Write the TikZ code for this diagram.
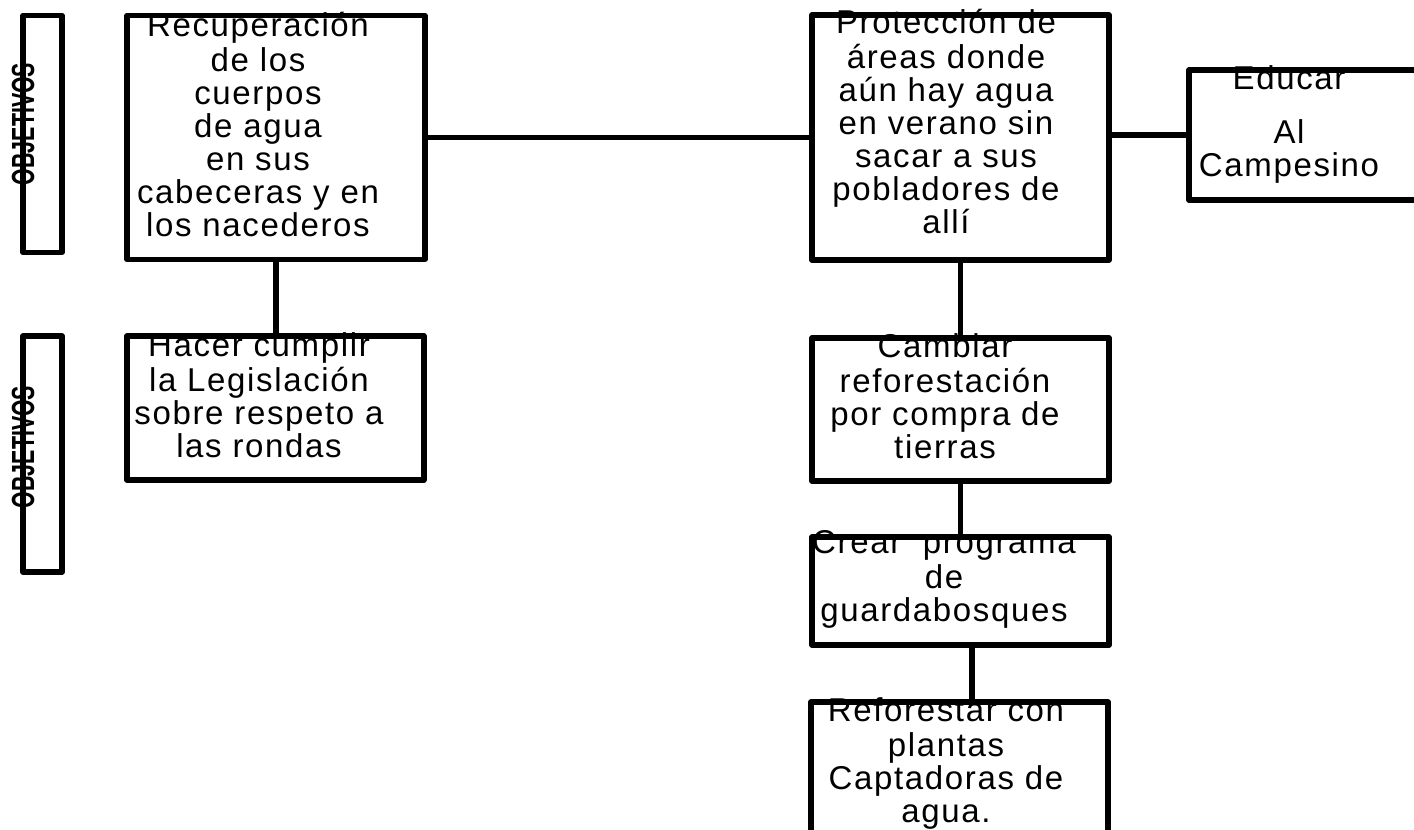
\documentclass[tikz,border=0pt]{standalone}
\usepackage{fontspec}
\setmainfont{Liberation Sans}
\newfontfamily\boxfont{Liberation Sans}[LetterSpace=5]
\usetikzlibrary{positioning}
\tikzset{caja/.style={rectangle,draw=black,line width=5.5pt,line join=round,inner sep=0pt}}
\tikzset{texto/.style={anchor=north,inner sep=0pt,align=center,font=\boxfont\fontsize{33}{33}\selectfont}}
\tikzset{rotulo/.style={rotate=90,inner sep=0pt,font=\bfseries\fontsize{32}{34}\selectfont}}
\tikzset{linea/.style={line width=5.5pt}}

\begin{document}
\begin{tikzpicture}[x=1pt,y=-1pt]
% \draw[help lines] (0,0) grid (1414,830);
\useasboundingbox (0,0) rectangle (1414,830);
\clip (0,0) rectangle (1414,830);
%
\node (rect) [texto] at (258,11.9) {\strut Recuperación\\de los\\cuerpos\\de agua\\en sus\\cabeceras y en\\los nacederos};
\node (hact) [texto] at (259,331.9) {\strut Hacer cumplir\\la Legislación\\sobre respeto a\\las rondas};
\node (prot) [texto] at (946,8.9) {\strut Protección de\\áreas donde\\aún hay agua\\en verano sin\\sacar a sus\\pobladores de\\allí};
\node (edut) [texto] at (1289,64.9) {\strut Educar\\[20pt]Al\\Campesino};
\node (camt) [texto] at (945,332.9) {\strut Cambiar\\reforestación\\por compra de\\tierras};
\node (cret) [texto] at (944,529.9) {\strut Crear\ \ programa\\de\\guardabosques};
\node (reft) [texto] at (946,697.9) {\strut Reforestar con\\plantas\\Captadoras de\\agua.};
%
\node (obj1) [caja,minimum width=39,minimum height=237] at (42.5,134) {};
\node (obj2) [caja,minimum width=39,minimum height=236] at (42.5,454) {};
\node (lab1) [rotulo] at (23,124) {\scalebox{0.667}[1]{OBJETIVOS}};
\node (lab2) [rotulo] at (23,447) {\scalebox{0.667}[1]{OBJETIVOS}};
%
\node (rec) [caja,minimum width=298,minimum height=244] at (276,137.5) {};
\node (hac) [caja,minimum width=297,minimum height=144] at (275.25,408) {};
\node (pro) [caja,minimum width=297,minimum height=245] at (960.5,137.5) {};
\node (edu) [caja,minimum width=251,minimum height=130] at (1314.5,135) {};
\node (cam) [caja,minimum width=297,minimum height=143] at (960.5,409.5) {};
\node (cre) [caja,minimum width=297,minimum height=108] at (960.5,591) {};
\node (ref) [caja,minimum width=297,minimum height=148] at (959.5,776) {};
%
\draw[linea] (rec.south) -- (rec.south |- hac.north);
\draw[linea] (rec.east) -- (pro.west);
\draw[linea] (edu.west -| pro.east) -- (edu.west);
\draw[linea] (pro.south) -- (cam.north);
\draw[linea] (cam.south) -- (cre.north);
\draw[linea] ([xshift=11.5pt]cre.south) -- ([xshift=11.5pt]cre.south |- ref.north);
\end{tikzpicture}
\end{document}
